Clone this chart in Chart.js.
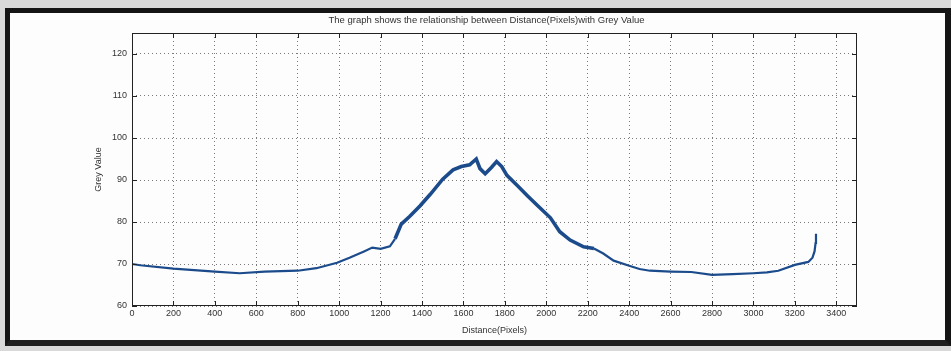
<!DOCTYPE html>
<html>
<head>
<meta charset="utf-8">
<script src="https://cdn.jsdelivr.net/npm/chart.js@4/dist/chart.umd.min.js"></script>
<style>
  html, body { margin: 0; padding: 0; }
  body { width: 951px; height: 351px; background: #d9d9d9; position: relative; overflow: hidden; }
  #frame {
    position: absolute; left: 5px; top: 8px; width: 935px; height: 327px;
    background: #fdfdfd;
    border-top: 5px solid #151515; border-left: 5px solid #151515;
    border-right: 6px solid #151515; border-bottom: 6px solid #202020;
  }
  #wrap { position: absolute; left: 0; top: 0; width: 951px; height: 351px; }
</style>
</head>
<body>
<div id="frame"></div>
<div id="wrap"><canvas id="main-chart" width="951" height="351"></canvas></div>
<script>
const distance = [0, 40, 200, 400, 520, 640, 800, 890, 990, 1050, 1120, 1160, 1200, 1245, 1270, 1300,
  1340, 1390, 1440, 1500, 1550, 1590, 1630, 1662, 1680, 1705, 1735, 1760, 1785, 1810, 1860, 1910,
  1960, 2020, 2065, 2115, 2180, 2230, 2275, 2325, 2400, 2450, 2500, 2600, 2700, 2800, 2900, 3000,
  3065, 3120, 3200, 3265, 3285, 3295, 3300, 3302]
const greyValue = [70.0, 69.7, 68.9, 68.2, 67.8, 68.2, 68.4, 69.0, 70.3, 71.5, 73.0, 73.9, 73.6, 74.2, 76.0, 79.5,
  81.3, 83.8, 86.6, 90.2, 92.4, 93.2, 93.6, 95.0, 92.7, 91.5, 93.0, 94.4, 93.2, 91.1, 88.7, 86.2,
  83.8, 81.0, 77.7, 75.7, 74.1, 73.7, 72.5, 70.8, 69.6, 68.8, 68.4, 68.2, 68.1, 67.4, 67.6, 67.8,
  68.0, 68.4, 69.8, 70.5, 71.5, 73.0, 75.0, 77.2]
const xTicks = [0, 200, 400, 600, 800, 1000, 1200, 1400, 1600, 1800, 2000, 2200, 2400, 2600, 2800, 3000, 3200, 3400]
const yTicks = [60, 70, 80, 90, 100, 110, 120]
const chartTitle = 'The graph shows the relationship between Distance(Pixels)with Grey Value'

const FONT = { family: 'Liberation Sans, Arial, sans-serif', size: 9 }
const TEXT_COLOR = '#333'

// matlab style box with ticks drawn inside, title centred on the axes box
const boxPlugin = {
  id: 'box',
  afterDraw(chart) {
    const { ctx, chartArea: a, scales } = chart
    ctx.save()
    ctx.strokeStyle = '#222'
    ctx.lineWidth = 1
    ctx.strokeRect(a.left + 0.5, a.top + 0.5, a.right - a.left - 1, a.bottom - a.top - 1)
    ctx.beginPath()
    xTicks.forEach(v => {
      const x = Math.round(scales.x.getPixelForValue(v)) + 0.5
      ctx.moveTo(x, a.bottom); ctx.lineTo(x, a.bottom - 5)
      ctx.moveTo(x, a.top); ctx.lineTo(x, a.top + 5)
    })
    yTicks.forEach(v => {
      const y = Math.round(scales.y.getPixelForValue(v)) + 0.5
      ctx.moveTo(a.left, y); ctx.lineTo(a.left + 5, y)
      ctx.moveTo(a.right, y); ctx.lineTo(a.right - 5, y)
    })
    ctx.stroke()

    ctx.fillStyle = TEXT_COLOR
    ctx.font = `9.5px ${FONT.family}`
    ctx.textAlign = 'center'
    ctx.textBaseline = 'middle'
    ctx.fillText(chartTitle, (a.left + a.right) / 2 - 8, 20)
    ctx.restore()
  }
}

const chartCanvas = document.getElementById('main-chart')
const myChart = new Chart(chartCanvas.getContext('2d'), {
  type: 'line',
  data: {
    datasets: [{
      data: distance.map((d, i) => ({ x: d, y: greyValue[i] })),
      borderColor: '#1c4b8c',
      borderWidth: 2.2,
      pointRadius: 0,
      tension: 0,
      fill: false,
      segment: {
        borderWidth: c => (c.p0.parsed.x >= 1270 && c.p1.parsed.x <= 2230) ? 3.6 : 2.2
      }
    }]
  },
  options: {
    responsive: false,
    animation: false,
    layout: { padding: { left: 0, right: 94, top: 33, bottom: 15 } },
    plugins: {
      legend: { display: false },
      tooltip: { enabled: false },
      title: { display: false }
    },
    scales: {
      x: {
        type: 'linear',
        min: 0,
        max: 3500,
        afterBuildTicks: axis => { axis.ticks = xTicks.map(v => ({ value: v })) },
        afterFit: axis => { axis.height = 30 },
        grid: { color: '#7a7a7a', lineWidth: 1, drawTicks: false },
        border: { display: false, dash: [1, 3] },
        ticks: { color: TEXT_COLOR, font: FONT, padding: 2, maxRotation: 0, autoSkip: false, callback: v => String(v) },
        title: { display: true, text: 'Distance(Pixels)', color: TEXT_COLOR, font: FONT, padding: { top: 0, bottom: 0 } }
      },
      y: {
        min: 60,
        max: 125,
        afterBuildTicks: axis => { axis.ticks = yTicks.map(v => ({ value: v })) },
        afterFit: axis => { axis.width = 132 },
        grid: { color: '#7a7a7a', lineWidth: 1, drawTicks: false },
        border: { display: false, dash: [1, 3] },
        ticks: { color: TEXT_COLOR, font: FONT, padding: 5, callback: v => String(v) },
        title: { display: true, text: 'Grey Value', color: TEXT_COLOR, font: FONT, padding: { top: 93, bottom: 0 } }
      }
    }
  },
  plugins: [boxPlugin]
})
</script>
</body>
</html>
